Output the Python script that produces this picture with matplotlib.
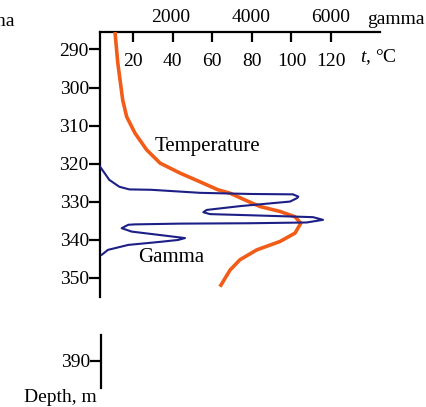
import matplotlib.pyplot as plt

plt.rcParams['font.family'] = 'Liberation Serif'
plt.rcParams['font.size'] = 14
plt.rcParams['mathtext.fontset'] = 'custom'
plt.rcParams['mathtext.it'] = 'Liberation Serif:italic'
plt.rcParams['mathtext.rm'] = 'Liberation Serif'

# temperature log (depth m, deg C)
temp_depth = [285.4, 293.5, 303.3, 307.7, 312.0, 316.4, 319.9, 322.5, 324.8, 326.9,
              327.8, 329.6, 331.3, 332.6, 334.0, 335.7, 338.3, 340.5, 342.7, 345.3,
              348.0, 352.4]
temp_vals = [10.9, 12.3, 14.8, 16.8, 21.0, 26.9, 33.7, 43.7, 53.8, 62.9,
             69.0, 76.6, 84.1, 94.2, 101.8, 104.7, 101.8, 94.2, 82.5, 74.0,
             69.0, 63.9]

# gamma log (depth m, counts)
gamma_depth = [320.8, 324.3, 326.1, 326.8, 326.9, 327.7, 328.0, 328.1, 328.7, 329.1,
               330.0, 331.2, 332.2, 332.8, 333.3, 333.6, 334.1, 334.8, 335.5, 335.7,
               335.8, 336.0, 336.1, 337.0, 337.9, 338.8, 339.6, 340.1, 340.6, 341.4,
               342.7, 344.0]
gamma_vals = [225, 458, 708, 958, 1500, 2725, 3975, 5050, 5183, 5150,
              4975, 3725, 2892, 2808, 2975, 3975, 5550, 5800, 5392, 3975,
              2225, 1100, 933, 767, 1017, 1725, 2350, 2175, 1725, 933,
              425, 268]

temp_ticks = [20, 40, 60, 80, 100, 120]
gamma_ticks = [2000, 4000, 6000]
depth_ticks = [290, 300, 310, 320, 330, 340, 350]

W, H = 427, 407
fig = plt.figure(figsize=(W / 100, H / 100), dpi=100)

ax = fig.add_axes([100 / W, 1 - 297 / H, 280 / W, 265 / H])
axg = ax.twiny()

ax.set_ylim(355.1, 285.4)
ax.set_xlim(3.33, 144.7)
for s in ['right', 'bottom']:
    ax.spines[s].set_visible(False)
ax.spines['left'].set_linewidth(1.6)
ax.spines['top'].set_linewidth(1.6)
ax.xaxis.set_ticks_position('top')
ax.set_xticks(temp_ticks)
ax.tick_params(axis='x', direction='in', length=7.5, width=1.6, pad=-27,
               labeltop=True, labelbottom=False)
ax.set_yticks(depth_ticks)
ax.tick_params(axis='y', direction='out', length=8, width=1.6, pad=0)
ax.plot(temp_vals, temp_depth, color='#f25c19', lw=2.6, solid_capstyle='butt',
        solid_joinstyle='round', zorder=3)
ax.text(57.4, 315.6, 'Temperature', ha='center', va='center', fontsize=15)

axg.set_xlim(225, 7225)
for s in axg.spines.values():
    s.set_visible(False)
axg.set_xticks(gamma_ticks)
axg.tick_params(axis='x', length=0, pad=4)
axg.plot(gamma_vals, gamma_depth, color='#1c1f86', lw=1.5, solid_joinstyle='round', zorder=2)
axg.text(2000, 344.8, 'Gamma', ha='center', va='center', fontsize=15)

# lower segment of the broken depth axis
ax2 = fig.add_axes([101.5 / W, 1 - 388 / H, 10 / W, 53 / H])
ax2.set_ylim(397.1, 383.2)
ax2.set_xticks([])
for s in ['right', 'bottom', 'top']:
    ax2.spines[s].set_visible(False)
ax2.spines['left'].set_linewidth(1.6)
ax2.set_yticks([390])
ax2.tick_params(axis='y', direction='out', length=8, width=1.6, pad=0)
ax2.patch.set_alpha(0)

fig.text(367 / W, 1 - 19 / H, 'gamma', ha='left', va='center')
fig.text(360 / W, 1 - 57 / H, r'$\it{t}$, °C', ha='left', va='center')
fig.text(60 / W, 1 - 397 / H, 'Depth, m', ha='center', va='center')
fig.text(15 / W, 1 - 22 / H, 'gamma', ha='right', va='center')

fig.savefig('out.png', dpi=100)
